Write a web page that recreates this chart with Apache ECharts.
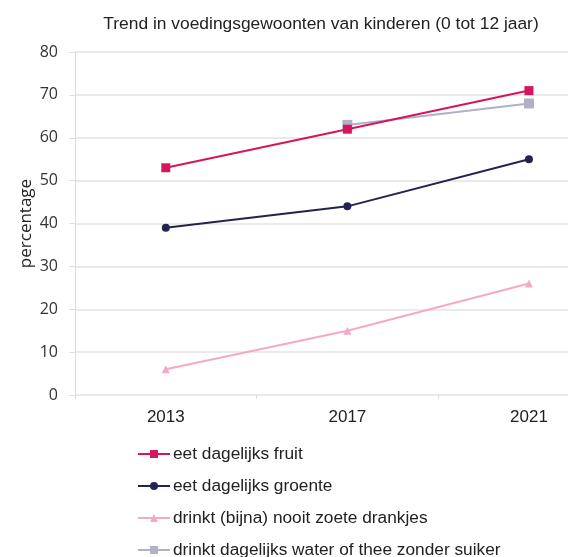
<!DOCTYPE html>
<html><head><meta charset="utf-8">
<script src="https://cdn.jsdelivr.net/npm/echarts@6/dist/echarts.min.js"></script>
<style>html,body{margin:0;padding:0;background:#fff}#c{width:578px;height:557px}</style>
</head><body><div id="c"></div>
<script>
var years = [2013, 2017, 2021];
var yearBounds = [2011, 2015, 2019];
var yTicks = [0, 10, 20, 30, 40, 50, 60, 70, 80];
var seriesNames = ['eet dagelijks fruit', 'eet dagelijks groente', 'drinkt (bijna) nooit zoete drankjes', 'drinkt dagelijks water of thee zonder suiker'];
var fruit = [53, 62, 71];
var groente = [39, 44, 55];
var zoete = [6, 15, 26];
var water = [null, 63, 68];

var colors = ['#d5165e', '#23234f', '#f5a9c9', '#b1b1c6'];
var symbols = ['rect', 'circle', 'triangle', 'rect'];
var sizes = [9, 8, 8, 10];
var vals = [fruit, groente, zoete, water];

var chart = echarts.init(document.getElementById('c'));
chart.setOption({
  animation: false,
  title: {
    text: 'Trend in voedingsgewoonten van kinderen (0 tot 12 jaar)',
    left: 316, textAlign: 'center', top: 11,
    textStyle: {fontFamily: 'Liberation Sans', fontSize: 17.4, fontWeight: 'normal', color: '#222'}
  },
  grid: {left: 75, right: 10, top: 52, bottom: 162},
  xAxis: {
    type: 'value', min: 2011, max: 2021.86,
    axisLine: {show: false},
    axisTick: {show: true, customValues: yearBounds, length: 4, inside: false, lineStyle: {color: '#dcdcdc'}},
    splitLine: {show: false},
    axisLabel: {customValues: years, formatter: function (v) { return String(v); },
      fontFamily: 'Liberation Sans', fontSize: 17, color: '#222', margin: 14}
  },
  yAxis: {
    type: 'value', min: 0, max: 80, interval: 10,
    name: 'percentage', nameLocation: 'middle', nameGap: 40, nameRotate: 90, nameMoveOverlap: false,
    nameTextStyle: {fontFamily: 'Open Sans', fontSize: 17, color: '#222'},
    axisLine: {show: true, lineStyle: {color: '#dcdcdc', width: 1}},
    axisTick: {show: true, length: 6, lineStyle: {color: '#dcdcdc'}},
    axisLabel: {fontFamily: 'Open Sans', fontSize: 16, color: '#333', margin: 17},
    splitLine: {lineStyle: {color: '#e3e3e3', width: 1.5}}
  },
  legend: {
    orient: 'vertical', left: 137, top: 444, height: 130, itemGap: 12,
    itemWidth: 32, itemHeight: 10, padding: 0,
    textStyle: {fontFamily: 'Liberation Sans', fontSize: 17.3, color: '#222', padding: [0,0,0,-2], lineHeight: 20},
    data: seriesNames
  },
  series: seriesNames.map(function (n, i) {
    return {
      name: n, type: 'line',
      data: years.map(function (y, j) { return [y, vals[i][j]]; }),
      symbol: symbols[i], symbolSize: sizes[i], showSymbol: true,
      lineStyle: {color: colors[i], width: 2},
      itemStyle: {color: colors[i]},
      connectNulls: false, z: i === 3 ? 1 : 3 - i + 1
    };
  })
});
</script></body></html>
